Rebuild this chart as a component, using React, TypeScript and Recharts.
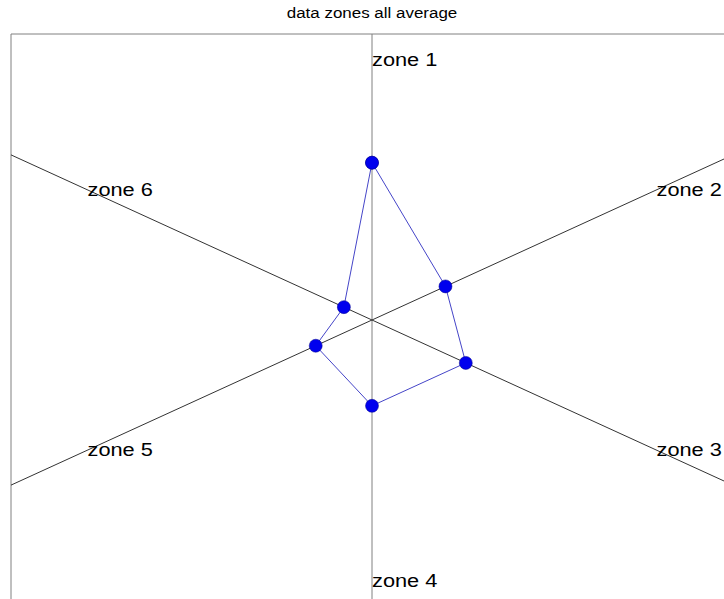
import { ScatterChart, Scatter, XAxis, YAxis, ReferenceLine, ReferenceArea } from 'recharts';

const zones = ['zone 1', 'zone 2', 'zone 3', 'zone 4', 'zone 5', 'zone 6'];
const zoneValues = [0.55, 0.235, 0.3, 0.3, 0.18, 0.09];
const title = 'data zones all average';

const LABEL_R = 0.91;
const FONT = '"Liberation Sans", Arial, sans-serif';
// the original picture is stretched sideways, text included
const TEXT_STRETCH = 1.21;

// zone 1 points up, then clockwise every 60 degrees
const angleOf = (i: number) => ((90 - 60 * i) * Math.PI) / 180;

const points = zoneValues.map((v, i) => ({
  x: v * Math.cos(angleOf(i)),
  y: v * Math.sin(angleOf(i)),
}));
const polygon = [...points, points[0]];

const labels = zones.map((name, i) => ({
  name,
  x: LABEL_R * Math.cos(angleOf(i)),
  y: LABEL_R * Math.sin(angleOf(i)),
}));

// one line per pair of opposite zones, clipped to the [-1,1] box
const spokes = zones.slice(0, 3).map((_, i) => {
  const a = angleOf(i);
  const c = Math.cos(a);
  const s = Math.sin(a);
  const t = Math.min(Math.abs(c) > 1e-9 ? 1 / Math.abs(c) : Infinity, Math.abs(s) > 1e-9 ? 1 / Math.abs(s) : Infinity);
  return [
    { x: c * t, y: s * t },
    { x: -c * t, y: -s * t },
  ];
});

const LabelShape = (props: any) => (
  <text
    x={0}
    y={0}
    transform={`translate(${props.cx},${props.cy}) scale(${TEXT_STRETCH},1)`}
    textAnchor="start"
    dominantBaseline="central"
    fontSize={18}
    fontFamily={FONT}
    fill="#000"
  >
    {props.payload.name}
  </text>
);

export default function App() {
  return (
    <div style={{ position: 'absolute', left: 0, top: 0, width: 724, height: 599, overflow: 'hidden', background: '#fff' }}>
      <div
        style={{
          position: 'absolute',
          left: 0,
          width: 744,
          top: 5,
          textAlign: 'center',
          fontFamily: FONT,
          fontSize: 14,
          transform: `scaleX(${TEXT_STRETCH})`,
          transformOrigin: '372px 0',
        }}
      >
        {title}
      </div>
      <ScatterChart width={744} height={620} margin={{ top: 34, right: 11, bottom: 14, left: 11 }}>
        <XAxis type="number" dataKey="x" domain={[-1, 1]} hide allowDataOverflow />
        <YAxis type="number" dataKey="y" domain={[-1, 1]} hide allowDataOverflow />
        <ReferenceArea x1={-1} x2={1} y1={-1} y2={1} fill="none" stroke="#808080" strokeWidth={1} />
        {spokes.map((seg, i) => (
          <ReferenceLine key={i} segment={seg} stroke={i === 0 ? '#808080' : '#333'} strokeWidth={1} />
        ))}
        <Scatter
          data={polygon}
          isAnimationActive={false}
          fill="#0000ee"
          line={{ stroke: '#4545c8', strokeWidth: 1 }}
          shape={(p: any) => <circle cx={p.cx} cy={p.cy} r={6.5} fill="#0000ee" stroke="#00008b" strokeWidth={0.5} />}
        />
        <Scatter data={labels} isAnimationActive={false} shape={LabelShape} />
      </ScatterChart>
    </div>
  );
}
